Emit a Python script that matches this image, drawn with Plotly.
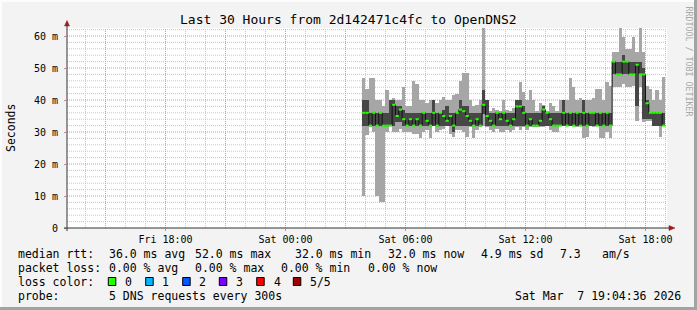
import plotly.graph_objects as go
import pandas as pd

# ---------------- data ----------------
title_text = "Last 30 Hours from 2d142471c4fc to OpenDNS2"
t_end = pd.Timestamp("2026-03-07 19:04:36")
t_begin = t_end - pd.Timedelta(hours=30)
data_start = pd.Timestamp("2026-03-07 03:50:00")
step_minutes = 10

# per-sample smoke statistics (ms): min, 2nd, median, 4th, max
rtt_min = [10, 29, 31.5, 30, 10, 8, 8, 30, 32, 30,
           30, 31, 30, 30, 30, 29.5, 29.5, 28, 30, 30.5,
           28, 32, 30, 30.5, 31, 32, 29.5, 28.5, 30.5, 30.5,
           30, 28.5, 31.5, 28, 30.5, 31.5, 32, 31.5, 30.5, 30,
           31, 30, 30, 30.5, 30, 30.5, 31.5, 30.5, 31.5, 30.5,
           31.5, 31.5, 31.5, 31.5, 31.5, 32, 30.5, 30, 30, 32,
           32, 32, 32, 32, 31.5, 32, 28, 28.5, 32, 31.5,
           32, 28, 28, 30, 28, 44, 44, 44, 45, 44,
           44, 44.5, 33.5, 44, 33, 33.5, 33.5, 32, 32, 28.5,
           32]
rtt_low = [32, 32, 32, 32, 32, 32, 32, 32, 32, 32,
           33, 33, 32, 32, 32, 32, 32, 32, 32, 32,
           32, 32, 32, 32, 32, 32, 32, 30, 32, 32,
           32, 32, 32, 32, 32, 32, 35.5, 32, 32, 32,
           32, 32, 32, 32, 32, 32, 32, 32, 32, 32,
           32, 32, 32, 32, 32, 32, 32, 32, 32, 32,
           32, 32, 32, 32, 32, 32, 32, 32, 32, 32,
           32, 32, 32, 32, 32, 48, 48, 48, 48, 48,
           48, 48, 38, 48, 34, 34, 34, 32, 32, 32,
           32]
rtt_median = [36, 36, 32, 36, 32, 36, 32, 32, 32, 38.5,
              35, 37, 34, 32, 34, 32, 34, 32, 36, 33.5,
              32, 36, 32, 36, 35, 33.5, 35, 32, 36, 37,
              36.5, 35, 33.5, 32, 34, 32, 38.5, 35, 33.5, 32,
              36, 34, 36, 33.5, 32, 34, 38, 38, 36, 32,
              34, 32, 32, 33.5, 37, 36, 34, 32, 32, 32,
              36, 32, 36, 32, 36, 32, 36, 32, 36, 36,
              32, 36, 32, 36, 32, 52, 48, 48, 52, 52,
              48, 48, 51, 48, 48, 39, 36, 36, 36, 36,
              32]
rtt_high = [40, 40, 36, 36, 36, 36, 36, 36, 40, 40,
            38, 38, 37, 36, 36, 36, 36, 36, 36, 36,
            36, 40, 36, 36, 37, 38, 36, 36, 36, 40,
            38, 38, 36, 36, 36, 36, 43, 40, 36, 36,
            36, 36, 36, 36, 36, 36, 40, 40, 38, 36,
            36, 36, 36, 36, 38, 36, 36, 36, 36, 36,
            40, 36, 36, 36, 36, 36, 40, 36, 36, 36,
            36, 36, 36, 36, 36, 52, 52, 52, 54, 52,
            52, 52, 52, 52, 50, 40, 36, 36, 36, 36,
            36]
rtt_max = [47, 43.5, 47, 47, 40, 40, 38, 43, 40, 40.5,
           40, 40, 44, 38, 38, 46, 45, 40, 40, 39,
           40, 40, 39, 40, 41, 40, 40, 41.5, 42, 46,
           48.5, 48.5, 40, 38, 38.5, 40, 62.5, 40, 36.5, 37.5,
           37, 36.5, 40, 37, 36.5, 37.5, 40, 45.7, 42.5, 40,
           43, 40, 36.5, 39, 38.5, 36.5, 39, 38, 36.5, 40,
           40, 40, 47, 44, 40, 40.5, 40, 40, 40, 40.5,
           43.5, 43.5, 40, 45.7, 44.5, 55, 55, 62.5, 59.8, 56,
           56, 59.8, 55, 62.5, 55, 44.5, 43.5, 40, 43, 40,
           47.3]

y_tick_vals = [0, 10, 20, 30, 40, 50, 60]
y_tick_text = ["0", "10 m", "20 m", "30 m", "40 m", "50 m", "60 m"]
x_label_times = ["2026-03-06 18:00", "2026-03-07 00:00", "2026-03-07 06:00",
                 "2026-03-07 12:00", "2026-03-07 18:00"]
x_label_text = ["Fri 18:00", "Sat 00:00", "Sat 06:00", "Sat 12:00", "Sat 18:00"]

legend_rtt = ["median rtt:", "36.0 ms avg", "52.0 ms max", "32.0 ms min",
              "32.0 ms now", "4.9 ms sd", "7.3", "am/s"]
legend_loss = ["packet loss:", "0.00 % avg", "0.00 % max", "0.00 % min",
               "0.00 % now"]
loss_labels = ["0", "1", "2", "3", "4", "5/5"]
loss_colors = ["#26ff00", "#00b8ff", "#0059ff", "#7e00ff", "#ff0000", "#a10000"]
probe_text = "5 DNS requests every 300s"
stamp_text = "Sat Mar\u00a0 7 19:04:36 2026"

# ---------------- geometry helpers (pixel -> paper) ----------------
W, H = 697, 310
L, R, T, B = 67, 667, 28, 228
Y_MAX = 62.5


def px(x):
    return (x - L) / (R - L)


def py(y):
    return (B - y) / (B - T)


n = len(rtt_median)
step = pd.Timedelta(minutes=step_minutes)
times = [data_start + step * i for i in range(n)]
step_ms = step_minutes * 60 * 1000

# grid positions (hourly minor / 3-hourly major, 2 ms minor / 10 ms major)
hours = pd.date_range(t_begin.ceil("h"), t_end, freq="h")
x_minor = [t for t in hours if t.hour % 3 != 0]
x_major = [t for t in hours if t.hour % 3 == 0]
y_minor = [v for v in range(2, 63, 2) if v % 10 != 0]
y_major = [v for v in y_tick_vals if v > 0]

LIGHT = "#a6a6a6"
DARK = "#474747"
FONT = "DejaVu Sans Mono"
RED_GRID = "#f08a8a"
GRAY_GRID = "#c6c6c6"
DOT = "1px,1px"

fig = go.Figure()

fig.add_trace(go.Bar(
    x=times, y=[h - l for l, h in zip(rtt_min, rtt_max)], base=rtt_min,
    width=step_ms, offset=0, marker=dict(color=LIGHT, line=dict(width=0)),
    hoverinfo="skip", showlegend=False))
fig.add_trace(go.Bar(
    x=times, y=[h - l for l, h in zip(rtt_low, rtt_high)], base=rtt_low,
    width=step_ms, offset=0, marker=dict(color=DARK, line=dict(width=0)),
    hoverinfo="skip", showlegend=False))

# median transitions (black step line)
fig.add_trace(go.Scatter(
    x=times + [times[-1] + step], y=rtt_median + [rtt_median[-1]],
    mode="lines", line=dict(color="#111111", width=1, shape="hv"),
    hoverinfo="skip", showlegend=False))

# green median segments
seg_x, seg_y = [], []
for t, m in zip(times, rtt_median):
    seg_x += [t, t + step, None]
    seg_y += [m, m, None]
fig.add_trace(go.Scatter(
    x=seg_x, y=seg_y, mode="lines",
    line=dict(color=loss_colors[0], width=2),
    hoverinfo="skip", showlegend=False))

common = dict(zeroline=False, showline=False, fixedrange=True, showgrid=False)
fig.update_layout(
    width=W, height=H,
    margin=dict(l=L, r=W - R, t=T, b=H - B, pad=0),
    paper_bgcolor="#f3f3f3", plot_bgcolor="#ffffff",
    barmode="overlay", bargap=0,
    showlegend=False,
    font=dict(family=FONT, size=10, color="#000000"),
    xaxis=dict(type="date", range=[t_begin, t_end],
               tickvals=x_label_times, ticktext=x_label_text,
               ticks="outside", ticklen=2, tickcolor="#e08080",
               ticklabelstandoff=0,
               tickfont=dict(family=FONT, size=10, color="#000"), **common),
    yaxis=dict(range=[0, Y_MAX], tickvals=y_tick_vals, ticktext=y_tick_text,
               ticks="outside", ticklen=2, tickcolor="#e08080",
               ticklabelstandoff=4,
               tickfont=dict(family=FONT, size=10, color="#000"), **common),
)

shapes = []
# grid lines (below traces), positioned through the axes
for t in x_minor:
    shapes.append(dict(type="line", xref="x", yref="paper", x0=t, x1=t,
                       y0=0, y1=1, layer="below",
                       line=dict(color=GRAY_GRID, width=1, dash=DOT)))
for v in y_minor:
    shapes.append(dict(type="line", xref="paper", yref="y", x0=0, x1=1,
                       y0=v, y1=v, layer="below",
                       line=dict(color=GRAY_GRID, width=1, dash=DOT)))
for t in x_major:
    shapes.append(dict(type="line", xref="x", yref="paper", x0=t, x1=t,
                       y0=0, y1=1, layer="below",
                       line=dict(color=RED_GRID, width=1, dash=DOT)))
for v in y_major:
    shapes.append(dict(type="line", xref="paper", yref="y", x0=0, x1=1,
                       y0=v, y1=v, layer="below",
                       line=dict(color=RED_GRID, width=1, dash=DOT)))

# axis lines extending beyond plot + arrows
AX = "#333333"
ARROW = "#9a1c1c"
shapes.append(dict(type="line", xref="paper", yref="paper",
                   x0=px(67), x1=px(67), y0=py(231), y1=py(24),
                   line=dict(color=AX, width=1)))
shapes.append(dict(type="line", xref="paper", yref="paper",
                   x0=px(64), x1=px(671), y0=py(228), y1=py(228),
                   line=dict(color=AX, width=1)))
shapes.append(dict(type="path", xref="paper", yref="paper",
                   path="M {} {} L {} {} L {} {} Z".format(
                       px(64.5), py(26), px(69.5), py(26), px(67), py(20.5)),
                   fillcolor=ARROW, line=dict(color=ARROW, width=0.5)))
shapes.append(dict(type="path", xref="paper", yref="paper",
                   path="M {} {} L {} {} L {} {} Z".format(
                       px(669), py(225.5), px(669), py(230.5), px(675), py(228)),
                   fillcolor=ARROW, line=dict(color=ARROW, width=0.5)))
# 3D frame
shapes.append(dict(type="rect", xref="paper", yref="paper",
                   x0=px(0), x1=px(W), y0=py(0), y1=py(2),
                   fillcolor="#fdfdfd", line=dict(width=0)))
shapes.append(dict(type="rect", xref="paper", yref="paper",
                   x0=px(0), x1=px(2), y0=py(0), y1=py(H),
                   fillcolor="#fdfdfd", line=dict(width=0)))
shapes.append(dict(type="rect", xref="paper", yref="paper",
                   x0=px(0), x1=px(W), y0=py(307), y1=py(H),
                   fillcolor="#a3a3a3", line=dict(width=0)))
shapes.append(dict(type="rect", xref="paper", yref="paper",
                   x0=px(694), x1=px(W), y0=py(0), y1=py(H),
                   fillcolor="#a3a3a3", line=dict(width=0)))

annotations = []


def add_text(text, x, y, size=11.5, anchor="left", color="#000", angle=0):
    annotations.append(dict(
        text=text, xref="paper", yref="paper", x=px(x), y=py(y),
        xanchor=anchor, yanchor="middle", showarrow=False,
        textangle=angle, font=dict(family=FONT, size=size, color=color)))


add_text(title_text, 348.5, 19, size=13, anchor="center")
add_text("Seconds", 11, 128, size=11.5, anchor="center", angle=-90)
add_text("RRDTOOL / TOBI OETIKER", 688.5, 61, size=8.3, anchor="center",
         color="#a8a8a8", angle=90)

row1_x = [16, 107.3, 193.3, 293.3, 386.3, 479, 558, 600.3]
for txt, x in zip(legend_rtt, row1_x):
    add_text(txt, x, 254)
row2_x = [16, 107.3, 193.3, 279.3, 366]
for txt, x in zip(legend_loss, row2_x):
    add_text(txt, x, 268)
add_text("loss color:", 16, 281.5)
box_x = [108.3, 145.7, 182.7, 219.3, 256.7, 293.3]
lab_x = [122.7, 160, 197.3, 234.3, 271.7, 308.3]
for lab, col, bx, lx in zip(loss_labels, loss_colors, box_x, lab_x):
    shapes.append(dict(type="rect", xref="paper", yref="paper",
                       x0=px(bx), x1=px(bx + 7.5), y0=py(285.5), y1=py(277.5),
                       fillcolor=col, line=dict(color="#000", width=1)))
    add_text(lab, lx, 281.5)
add_text("probe:", 16, 296)
add_text(probe_text, 107.3, 296)
add_text(stamp_text, 513, 296)

fig.update_layout(shapes=shapes, annotations=annotations)

fig.write_html("out.html", config={"displayModeBar": False, "staticPlot": True})
